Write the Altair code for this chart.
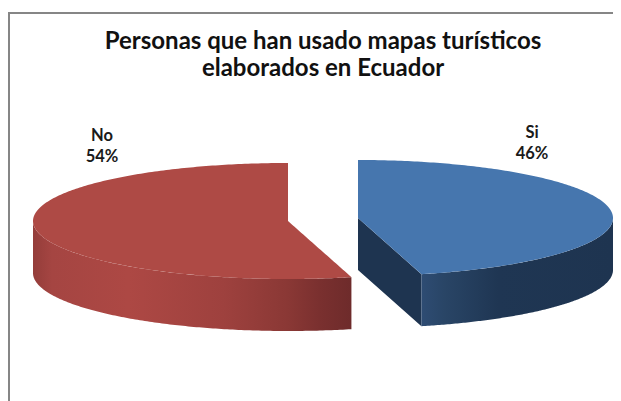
import numpy as np
import pandas as pd
import altair as alt

# --- values ---
categories = ["Si", "No"]
percents = [46, 54]
title_lines = ["Personas que han usado mapas turísticos", "elaborados en Ecuador"]

# --- layout of the drawing (chart pixels; page pixel = chart pixel + 8) ---
W, H = 605, 393
RX, RY, DEPTH = 255, 58, 52
CX_SI, CY_SI = 350, 210
CX_NO, CY_NO = 280, 213

cut = np.radians(percents[0] / 100 * 360)  # clockwise from 12 o'clock


def ell(cx, cy, t):
    return cx + RX * np.sin(t), cy - RY * np.cos(t)


def half(x, cx):
    return RY * np.sqrt(np.clip(1 - ((x - cx) / RX) ** 2, 0, 1))


def si_top():
    xc, yc = ell(CX_SI, CY_SI, cut)
    xs = CX_SI + RX * np.sin(np.radians(np.linspace(0, 90, 121)))
    xs = np.unique(np.append(xs, xc))
    upper = CY_SI - half(xs, CX_SI)
    lower_line = CY_SI + (xs - CX_SI) / (xc - CX_SI) * (yc - CY_SI)
    lower = np.where(xs <= xc, lower_line, CY_SI + half(xs, CX_SI))
    return pd.DataFrame({"x": xs, "y": upper, "y2": lower})


def no_top():
    xs = CX_NO + RX * np.sin(np.radians(np.linspace(-90, 0, 121)))
    left = pd.DataFrame({"x": xs, "y": CY_NO - half(xs, CX_NO), "y2": CY_NO + half(xs, CX_NO)})
    xc, yc = ell(CX_NO, CY_NO, cut)
    xr = np.linspace(CX_NO + 0.01, xc, 30)
    right = pd.DataFrame({
        "x": xr,
        "y": CY_NO + (xr - CX_NO) / (xc - CX_NO) * (yc - CY_NO),
        "y2": CY_NO + half(xr, CX_NO),
    })
    return pd.concat([left, right], ignore_index=True)


def outer_wall(cx, cy, t0, t1):
    xs, ys = ell(cx, cy, np.linspace(t0, t1, 160))
    df = pd.DataFrame({"x": xs, "y": ys, "y2": ys + DEPTH})
    return df.sort_values("x").reset_index(drop=True)


def cut_wall():
    xc, yc = ell(CX_SI, CY_SI, cut)
    xs = np.linspace(CX_SI, xc, 10)
    ys = CY_SI + (xs - CX_SI) / (xc - CX_SI) * (yc - CY_SI)
    return pd.DataFrame({"x": xs, "y": ys, "y2": ys + DEPTH})


X = alt.X("x:Q", scale=alt.Scale(domain=[0, W], nice=False, zero=False), axis=None)
Y = alt.Y("y:Q", scale=alt.Scale(domain=[0, H], nice=False, zero=False, reverse=True), axis=None)


def area(df, fill):
    return alt.Chart(df).mark_area(fill=fill, clip=False).encode(x=X, y=Y, y2="y2:Q")


def grad(stops):
    return alt.Gradient(
        gradient="linear", x1=0, x2=1, y1=0, y2=0,
        stops=[alt.GradientStop(offset=o, color=c) for o, c in stops],
    )


red_wall = grad([(0, "#943d3a"), (0.06, "#a54542"), (0.3, "#ad4844"), (0.6, "#9e413e"),
                 (0.8, "#8a3835"), (0.9, "#7a302f"), (1, "#6e2b2b")])
blue_wall = grad([(0, "#2e4c73"), (0.12, "#294566"), (0.4, "#1f3653"), (1, "#1e3450")])

layers = [
    area(outer_wall(CX_NO, CY_NO, cut, np.radians(270)), red_wall),
    area(no_top(), "#ae4a45"),
    area(cut_wall(), "#1e3450"),
    area(outer_wall(CX_SI, CY_SI, cut, np.radians(90)), blue_wall),
    area(si_top(), "#4676ae"),
]

labels = pd.DataFrame({
    "x": [524, 94],
    "y": [125, 127.5],
    "text": [[c, f"{p}%"] for c, p in zip(categories, percents)],
})
text = alt.Chart(labels).mark_text(
    font="Lato", fontSize=16.5, fontWeight="bold", color="#1a1a1a", align="center",
    baseline="middle", lineHeight=21,
).encode(x=X, y=Y, text="text")

frame_left = alt.Chart(pd.DataFrame({"a": [0]})).mark_rule(color="#868686", strokeWidth=2).encode(
    x=alt.value(1), y=alt.value(5), y2=alt.value(H))
frame_top = alt.Chart(pd.DataFrame({"a": [0]})).mark_rule(color="#868686", strokeWidth=2).encode(
    x=alt.value(0), x2=alt.value(W), y=alt.value(5))

chart = alt.layer(*layers, frame_left, frame_top, text).properties(
    width=W, height=H,
    padding=0,
    autosize=alt.AutoSizeParams(type="none"),
    background="white",
    title=alt.TitleParams(
        text=title_lines, font="Lato", fontSize=24, fontWeight="bold", color="#111111",
        anchor="middle", lineHeight=27, dx=12.5, dy=77, orient="top", frame="group",
    ),
).configure_view(stroke=None)

chart.save("out.html", embed_options={"renderer": "svg", "actions": False})
